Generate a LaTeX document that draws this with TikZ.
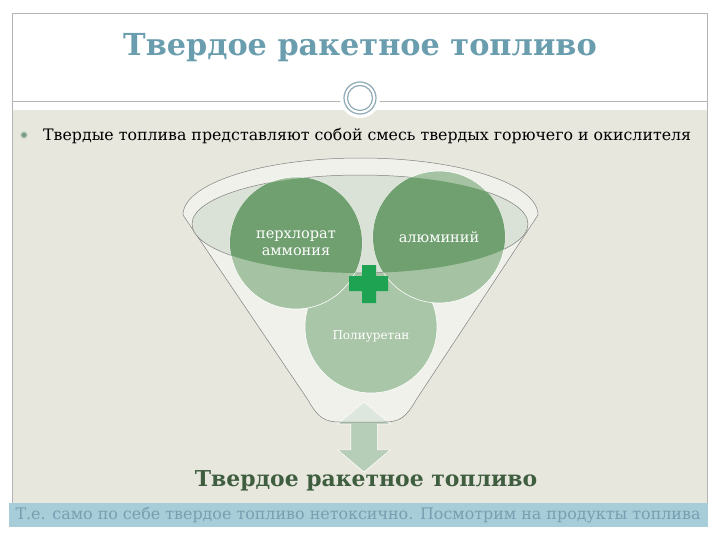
\documentclass[tikz,border=0pt]{standalone}
\usepackage{fontspec}
\setmainfont{DejaVu Serif}
\usetikzlibrary{shapes.arrows}
\definecolor{slidebg}{HTML}{E8E7DE}
\definecolor{framegray}{HTML}{B4B4B4}
\definecolor{titleblue}{HTML}{6A9DAE}
\definecolor{ringblue}{HTML}{8FAAB8}
\definecolor{barblue}{HTML}{A7CDD9}
\definecolor{bartext}{HTML}{789FB0}
\definecolor{bulletgreen}{HTML}{7A9C86}
\definecolor{funnelfill}{HTML}{F8F9F6}
\definecolor{rimfill}{HTML}{DAE1D6}
\definecolor{balllight}{HTML}{A5C3A3}
\definecolor{balldark}{HTML}{70A070}
\definecolor{plusgreen}{HTML}{1DA352}
\definecolor{arrowgreen}{HTML}{B6CDB8}
\definecolor{fueltext}{HTML}{3F5E40}
\begin{document}
\begin{tikzpicture}[x=1pt,y=-1pt]
\tikzstyle{every node}=[inner sep=0pt, align=center]
\tikzstyle{ball}=[circle, minimum size=132pt, draw=white, line width=.6pt, fill=balllight]
\useasboundingbox (0,0) rectangle (720,540);
\fill[white] (0,0) rectangle (720,540);
\fill[slidebg] (12,110) rectangle (707,503);
\draw[framegray] (12,503) -- (12,13) -- (707,13) -- (707,503);
\draw[framegray] (12,101) -- (707,101);
\fill[barblue] (9,503) rectangle (708,527);
\fill[white] (360,98) circle (20);
\draw[ringblue, line width=1.2pt] (360,98) circle (16) (360,98) circle (12.5);
\draw (360,48) node (title) [font=\bfseries\fontsize{30.3}{35}\selectfont, text=titleblue] {Твердое ракетное топливо};
\fill[bulletgreen!40!white] (24,135) circle (4);
\fill[bulletgreen] (24,135) circle (2.6);
\draw (43,136) node (lead) [anchor=west, font=\fontsize{15.8}{18}\selectfont] {Твердые топлива представляют собой смесь твердых горючего и окислителя};
\draw (364,437) node (flow) [double arrow, shape border rotate=90, inner sep=13pt, minimum height=70pt, double arrow head extend=13pt, double arrow tip angle=100, fill=arrowgreen, draw=white, line width=.6pt] {};
\draw[gray, line width=.5pt, fill=funnelfill, fill opacity=.6] (183,215) arc[start angle=180, end angle=360, x radius=177.5, y radius=57] -- (416,400) .. controls (406,418) and (399,422) .. (384,422) -- (340,422) .. controls (325,422) and (318,418) .. (308,400) -- cycle;
\draw (371,327) node (pu) [ball, fill=balllight!95!white, font=\fontsize{12}{15}\selectfont, text=white] {\\[12pt]Полиуретан};
\draw[gray, line width=.5pt, fill=rimfill] (360,224) ellipse [x radius=168, y radius=49];
\draw (296,243) node (ap) [ball] {};
\draw (439,237) node (al) [ball] {};
\begin{scope}
\clip (360,224) ellipse [x radius=168, y radius=49];
\fill[balldark] (ap) circle (66) (al) circle (66);
\end{scope}
\draw (ap) node (aptext) [font=\fontsize{14.5}{16.5}\selectfont, text=white] {перхлорат\\аммония};
\draw (al) node (altext) [font=\fontsize{14.5}{16.5}\selectfont, text=white] {алюминий};
\fill[plusgreen] (362,265) rectangle (376,303) (349,276) rectangle (388,291);
\draw (366,481) node (fuel) [font=\bfseries\fontsize{21.9}{26}\selectfont, text=fueltext] {Твердое ракетное топливо};
\draw (358,515) node (note) [font=\fontsize{15.9}{18}\selectfont, text=bartext] {Т.е. само по себе твердое топливо нетоксично. Посмотрим на продукты топлива};
\end{tikzpicture}
\end{document}
